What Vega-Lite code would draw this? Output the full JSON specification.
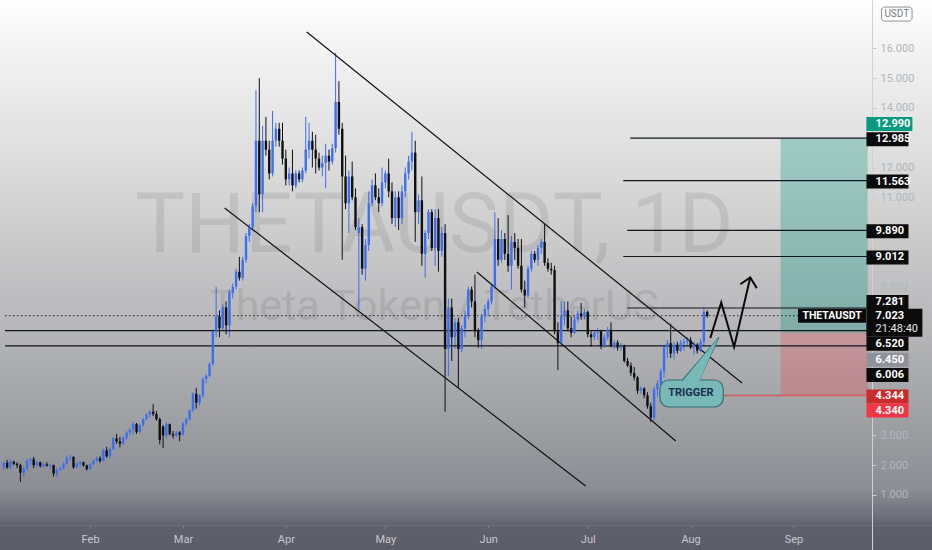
{
  "$schema": "https://vega.github.io/schema/vega-lite/v6.json",
  "width": 932,
  "height": 550,
  "autosize": {"type": "none"},
  "padding": 0,
  "background": "#5a5c68",
  "config": {
    "view": {
      "stroke": null,
      "fill": {
        "gradient": "linear", "x1": 0, "y1": 0, "x2": 0, "y2": 1,
        "stops": [
          {"offset": 0, "color": "#ffffff"},
          {"offset": 0.08, "color": "#f4f4f4"},
          {"offset": 0.3, "color": "#dcdcdc"},
          {"offset": 0.45, "color": "#c9c9ca"},
          {"offset": 0.6, "color": "#b6b6b8"},
          {"offset": 0.7, "color": "#a7a8ac"},
          {"offset": 0.8, "color": "#9a9b9f"},
          {"offset": 0.89, "color": "#8c8d93"},
          {"offset": 0.935, "color": "#70727c"},
          {"offset": 0.955, "color": "#5f616d"},
          {"offset": 1, "color": "#5a5c68"}
        ]
      }
    },
    "axis": {"grid": false, "labelFont": "Roboto", "labelFontSize": 11, "labelOverlap": false},
    "axisY": {"labelOverlap": false},
    "text": {"font": "Roboto"}
  },
  "datasets": {
    "candles": [
      {"d":"2021-01-06","o":1.92,"h":2.12,"l":1.85,"c":2.08},
      {"d":"2021-01-07","o":2.08,"h":2.18,"l":1.88,"c":1.92},
      {"d":"2021-01-08","o":1.92,"h":2.2,"l":1.85,"c":2.12},
      {"d":"2021-01-09","o":2.12,"h":2.15,"l":2.0,"c":2.05},
      {"d":"2021-01-10","o":2.05,"h":2.1,"l":1.9,"c":2.0},
      {"d":"2021-01-11","o":2.0,"h":2.05,"l":1.44,"c":1.75},
      {"d":"2021-01-12","o":1.75,"h":1.95,"l":1.6,"c":1.88},
      {"d":"2021-01-13","o":1.88,"h":2.2,"l":1.8,"c":2.15},
      {"d":"2021-01-14","o":2.15,"h":2.25,"l":2.0,"c":2.2},
      {"d":"2021-01-15","o":2.2,"h":2.28,"l":1.9,"c":2.0},
      {"d":"2021-01-16","o":2.0,"h":2.15,"l":1.95,"c":2.1},
      {"d":"2021-01-17","o":2.1,"h":2.12,"l":1.92,"c":1.97},
      {"d":"2021-01-18","o":1.97,"h":2.08,"l":1.9,"c":2.03},
      {"d":"2021-01-19","o":2.03,"h":2.1,"l":1.95,"c":1.98},
      {"d":"2021-01-20","o":1.98,"h":2.05,"l":1.88,"c":2.0},
      {"d":"2021-01-21","o":2.0,"h":2.02,"l":1.62,"c":1.72},
      {"d":"2021-01-22","o":1.72,"h":1.9,"l":1.6,"c":1.85},
      {"d":"2021-01-23","o":1.85,"h":1.95,"l":1.8,"c":1.9},
      {"d":"2021-01-24","o":1.9,"h":2.1,"l":1.85,"c":2.05},
      {"d":"2021-01-25","o":2.05,"h":2.32,"l":2.0,"c":2.25},
      {"d":"2021-01-26","o":2.25,"h":2.35,"l":2.15,"c":2.28},
      {"d":"2021-01-27","o":2.28,"h":2.3,"l":1.88,"c":1.93},
      {"d":"2021-01-28","o":1.93,"h":2.1,"l":1.9,"c":2.05},
      {"d":"2021-01-29","o":2.05,"h":2.15,"l":1.95,"c":2.1},
      {"d":"2021-01-30","o":2.1,"h":2.12,"l":1.95,"c":2.0},
      {"d":"2021-01-31","o":2.0,"h":2.02,"l":1.82,"c":1.87},
      {"d":"2021-02-01","o":1.87,"h":2.08,"l":1.83,"c":2.03},
      {"d":"2021-02-02","o":2.03,"h":2.2,"l":2.0,"c":2.15},
      {"d":"2021-02-03","o":2.15,"h":2.28,"l":2.1,"c":2.23},
      {"d":"2021-02-04","o":2.23,"h":2.3,"l":2.08,"c":2.15},
      {"d":"2021-02-05","o":2.15,"h":2.55,"l":2.12,"c":2.5},
      {"d":"2021-02-06","o":2.5,"h":2.62,"l":2.25,"c":2.3},
      {"d":"2021-02-07","o":2.3,"h":2.6,"l":2.2,"c":2.55},
      {"d":"2021-02-08","o":2.55,"h":2.95,"l":2.5,"c":2.9},
      {"d":"2021-02-09","o":2.9,"h":3.05,"l":2.72,"c":2.8},
      {"d":"2021-02-10","o":2.8,"h":2.95,"l":2.6,"c":2.72},
      {"d":"2021-02-11","o":2.72,"h":2.98,"l":2.68,"c":2.92},
      {"d":"2021-02-12","o":2.92,"h":3.15,"l":2.85,"c":3.1},
      {"d":"2021-02-13","o":3.1,"h":3.25,"l":3.0,"c":3.2},
      {"d":"2021-02-14","o":3.2,"h":3.45,"l":3.05,"c":3.38},
      {"d":"2021-02-15","o":3.38,"h":3.42,"l":3.05,"c":3.12},
      {"d":"2021-02-16","o":3.12,"h":3.4,"l":3.08,"c":3.35},
      {"d":"2021-02-17","o":3.35,"h":3.6,"l":3.3,"c":3.55},
      {"d":"2021-02-18","o":3.55,"h":3.75,"l":3.5,"c":3.7},
      {"d":"2021-02-19","o":3.7,"h":3.85,"l":3.6,"c":3.8},
      {"d":"2021-02-20","o":3.8,"h":4.05,"l":3.65,"c":3.72},
      {"d":"2021-02-21","o":3.72,"h":3.82,"l":3.5,"c":3.55},
      {"d":"2021-02-22","o":3.55,"h":3.6,"l":2.7,"c":2.85},
      {"d":"2021-02-23","o":3.3,"h":3.35,"l":2.58,"c":3.0},
      {"d":"2021-02-24","o":3.0,"h":3.45,"l":2.9,"c":3.38},
      {"d":"2021-02-25","o":3.38,"h":3.4,"l":3.0,"c":3.05},
      {"d":"2021-02-26","o":3.05,"h":3.15,"l":2.9,"c":3.0},
      {"d":"2021-02-27","o":3.0,"h":3.15,"l":2.95,"c":3.1},
      {"d":"2021-02-28","o":3.1,"h":3.15,"l":2.8,"c":3.02},
      {"d":"2021-03-01","o":3.02,"h":3.45,"l":3.0,"c":3.4},
      {"d":"2021-03-02","o":3.4,"h":3.6,"l":3.3,"c":3.55},
      {"d":"2021-03-03","o":3.55,"h":3.88,"l":3.5,"c":3.85},
      {"d":"2021-03-04","o":3.85,"h":4.45,"l":3.8,"c":4.4},
      {"d":"2021-03-05","o":4.4,"h":4.6,"l":3.9,"c":4.1},
      {"d":"2021-03-06","o":4.1,"h":4.38,"l":4.0,"c":4.35},
      {"d":"2021-03-07","o":4.35,"h":4.95,"l":4.25,"c":4.9},
      {"d":"2021-03-08","o":4.9,"h":5.05,"l":4.75,"c":5.0},
      {"d":"2021-03-09","o":5.0,"h":5.45,"l":4.95,"c":5.4},
      {"d":"2021-03-10","o":5.4,"h":6.55,"l":5.35,"c":6.5},
      {"d":"2021-03-11","o":6.5,"h":8.0,"l":6.3,"c":7.0},
      {"d":"2021-03-12","o":7.0,"h":7.2,"l":6.3,"c":6.6},
      {"d":"2021-03-13","o":6.6,"h":7.4,"l":6.5,"c":7.3},
      {"d":"2021-03-14","o":7.3,"h":7.5,"l":6.4,"c":6.7},
      {"d":"2021-03-15","o":6.7,"h":7.9,"l":6.3,"c":7.8},
      {"d":"2021-03-16","o":7.8,"h":8.1,"l":7.6,"c":8.0},
      {"d":"2021-03-17","o":8.0,"h":8.6,"l":7.9,"c":8.5},
      {"d":"2021-03-18","o":8.5,"h":9.0,"l":8.2,"c":8.3},
      {"d":"2021-03-19","o":8.3,"h":9.0,"l":8.2,"c":8.9},
      {"d":"2021-03-20","o":8.9,"h":9.8,"l":8.8,"c":9.7},
      {"d":"2021-03-21","o":9.7,"h":10.1,"l":9.5,"c":10.0},
      {"d":"2021-03-22","o":10.0,"h":10.8,"l":9.9,"c":10.7},
      {"d":"2021-03-23","o":10.7,"h":14.6,"l":10.5,"c":12.9},
      {"d":"2021-03-24","o":12.9,"h":15.0,"l":10.5,"c":11.1},
      {"d":"2021-03-25","o":11.1,"h":13.4,"l":10.5,"c":12.9},
      {"d":"2021-03-26","o":12.9,"h":13.7,"l":12.4,"c":12.6},
      {"d":"2021-03-27","o":12.6,"h":12.9,"l":11.6,"c":11.8},
      {"d":"2021-03-28","o":11.8,"h":13.9,"l":11.7,"c":12.9},
      {"d":"2021-03-29","o":12.9,"h":13.5,"l":12.7,"c":13.3},
      {"d":"2021-03-30","o":13.3,"h":13.5,"l":12.7,"c":12.9},
      {"d":"2021-03-31","o":12.9,"h":13.5,"l":12.1,"c":12.3},
      {"d":"2021-04-01","o":12.3,"h":12.6,"l":11.4,"c":11.6},
      {"d":"2021-04-02","o":11.6,"h":12.0,"l":11.4,"c":11.8},
      {"d":"2021-04-03","o":11.8,"h":12.6,"l":11.2,"c":11.4},
      {"d":"2021-04-04","o":11.4,"h":11.9,"l":11.3,"c":11.8},
      {"d":"2021-04-05","o":11.8,"h":11.9,"l":11.5,"c":11.6},
      {"d":"2021-04-06","o":11.6,"h":12.0,"l":11.5,"c":11.9},
      {"d":"2021-04-07","o":11.9,"h":13.7,"l":11.8,"c":12.6},
      {"d":"2021-04-08","o":12.6,"h":13.5,"l":12.3,"c":12.9},
      {"d":"2021-04-09","o":12.9,"h":13.2,"l":12.0,"c":12.6},
      {"d":"2021-04-10","o":12.6,"h":13.1,"l":11.8,"c":12.3},
      {"d":"2021-04-11","o":12.3,"h":12.5,"l":11.9,"c":12.0},
      {"d":"2021-04-12","o":12.0,"h":12.4,"l":11.7,"c":12.15},
      {"d":"2021-04-13","o":12.15,"h":12.8,"l":11.3,"c":12.4},
      {"d":"2021-04-14","o":12.4,"h":12.6,"l":11.9,"c":12.2},
      {"d":"2021-04-15","o":12.2,"h":12.8,"l":12.1,"c":12.65},
      {"d":"2021-04-16","o":12.65,"h":15.85,"l":12.5,"c":14.2},
      {"d":"2021-04-17","o":14.2,"h":14.9,"l":13.1,"c":13.3},
      {"d":"2021-04-18","o":13.3,"h":13.5,"l":8.9,"c":11.7},
      {"d":"2021-04-19","o":11.7,"h":12.4,"l":10.6,"c":10.8},
      {"d":"2021-04-20","o":10.8,"h":11.9,"l":9.8,"c":11.7},
      {"d":"2021-04-21","o":11.7,"h":12.2,"l":10.9,"c":11.0},
      {"d":"2021-04-22","o":11.0,"h":11.3,"l":9.9,"c":10.0},
      {"d":"2021-04-23","o":9.8,"h":10.3,"l":7.2,"c":10.0},
      {"d":"2021-04-24","o":10.0,"h":10.1,"l":8.4,"c":8.6},
      {"d":"2021-04-25","o":8.6,"h":9.6,"l":8.2,"c":9.4},
      {"d":"2021-04-26","o":9.4,"h":11.2,"l":9.2,"c":10.8},
      {"d":"2021-04-27","o":10.8,"h":11.6,"l":10.7,"c":11.4},
      {"d":"2021-04-28","o":11.4,"h":11.8,"l":10.9,"c":11.0},
      {"d":"2021-04-29","o":11.0,"h":11.3,"l":10.5,"c":10.8},
      {"d":"2021-04-30","o":10.8,"h":12.0,"l":10.7,"c":11.5},
      {"d":"2021-05-01","o":11.5,"h":11.9,"l":11.3,"c":11.8},
      {"d":"2021-05-02","o":11.8,"h":12.3,"l":11.0,"c":11.2},
      {"d":"2021-05-03","o":11.2,"h":11.5,"l":10.1,"c":10.3},
      {"d":"2021-05-04","o":10.3,"h":11.2,"l":10.0,"c":11.0},
      {"d":"2021-05-05","o":11.0,"h":11.2,"l":9.9,"c":10.3},
      {"d":"2021-05-06","o":10.3,"h":11.4,"l":10.1,"c":11.2},
      {"d":"2021-05-07","o":11.2,"h":12.0,"l":11.0,"c":11.8},
      {"d":"2021-05-08","o":11.8,"h":12.4,"l":11.6,"c":12.2},
      {"d":"2021-05-09","o":12.2,"h":13.2,"l":11.9,"c":12.5},
      {"d":"2021-05-10","o":12.5,"h":12.9,"l":9.5,"c":10.5},
      {"d":"2021-05-11","o":10.5,"h":11.1,"l":10.1,"c":10.9},
      {"d":"2021-05-12","o":10.9,"h":11.7,"l":8.7,"c":9.1},
      {"d":"2021-05-13","o":9.1,"h":9.9,"l":8.3,"c":9.8},
      {"d":"2021-05-14","o":9.8,"h":10.6,"l":9.6,"c":10.5},
      {"d":"2021-05-15","o":10.5,"h":10.6,"l":9.2,"c":9.3},
      {"d":"2021-05-16","o":9.3,"h":10.6,"l":8.7,"c":10.3},
      {"d":"2021-05-17","o":10.3,"h":10.6,"l":8.5,"c":9.2},
      {"d":"2021-05-18","o":9.2,"h":10.0,"l":9.0,"c":9.8},
      {"d":"2021-05-19","o":9.8,"h":10.1,"l":3.8,"c":5.9},
      {"d":"2021-05-20","o":5.9,"h":7.6,"l":5.0,"c":7.3},
      {"d":"2021-05-21","o":7.3,"h":7.6,"l":5.5,"c":6.3},
      {"d":"2021-05-22","o":6.3,"h":6.95,"l":5.9,"c":6.8},
      {"d":"2021-05-23","o":6.8,"h":6.95,"l":4.6,"c":5.9},
      {"d":"2021-05-24","o":5.9,"h":6.7,"l":5.8,"c":6.6},
      {"d":"2021-05-25","o":6.6,"h":7.2,"l":6.3,"c":7.0},
      {"d":"2021-05-26","o":7.0,"h":8.0,"l":6.9,"c":7.9},
      {"d":"2021-05-27","o":7.9,"h":8.0,"l":7.3,"c":7.5},
      {"d":"2021-05-28","o":7.5,"h":8.4,"l":6.3,"c":6.5},
      {"d":"2021-05-29","o":6.5,"h":6.6,"l":5.95,"c":6.2},
      {"d":"2021-05-30","o":6.2,"h":7.1,"l":5.9,"c":7.0},
      {"d":"2021-05-31","o":7.0,"h":7.4,"l":6.8,"c":7.25},
      {"d":"2021-06-01","o":7.25,"h":7.6,"l":7.0,"c":7.5},
      {"d":"2021-06-02","o":7.5,"h":8.1,"l":7.4,"c":8.0},
      {"d":"2021-06-03","o":8.0,"h":10.5,"l":7.9,"c":9.6},
      {"d":"2021-06-04","o":9.6,"h":10.3,"l":8.7,"c":8.9},
      {"d":"2021-06-05","o":8.9,"h":9.9,"l":8.8,"c":9.6},
      {"d":"2021-06-06","o":9.6,"h":9.8,"l":8.9,"c":9.1},
      {"d":"2021-06-07","o":9.1,"h":10.4,"l":8.5,"c":8.7},
      {"d":"2021-06-08","o":8.7,"h":9.7,"l":7.9,"c":9.5},
      {"d":"2021-06-09","o":9.5,"h":9.8,"l":8.9,"c":9.3},
      {"d":"2021-06-10","o":9.3,"h":9.6,"l":8.6,"c":8.7},
      {"d":"2021-06-11","o":8.7,"h":9.6,"l":7.8,"c":7.9},
      {"d":"2021-06-12","o":7.9,"h":8.2,"l":7.3,"c":7.7},
      {"d":"2021-06-13","o":7.7,"h":8.7,"l":7.6,"c":8.6},
      {"d":"2021-06-14","o":8.6,"h":9.2,"l":8.5,"c":9.1},
      {"d":"2021-06-15","o":9.1,"h":9.2,"l":8.8,"c":8.9},
      {"d":"2021-06-16","o":8.9,"h":9.4,"l":8.7,"c":9.3},
      {"d":"2021-06-17","o":9.3,"h":9.6,"l":9.1,"c":9.5},
      {"d":"2021-06-18","o":9.5,"h":10.1,"l":8.7,"c":8.8},
      {"d":"2021-06-19","o":8.8,"h":8.95,"l":8.5,"c":8.6},
      {"d":"2021-06-20","o":8.6,"h":8.8,"l":8.4,"c":8.55},
      {"d":"2021-06-21","o":8.55,"h":8.7,"l":6.4,"c":6.5},
      {"d":"2021-06-22","o":6.5,"h":6.8,"l":5.2,"c":6.1},
      {"d":"2021-06-23","o":6.1,"h":7.5,"l":6.0,"c":7.0},
      {"d":"2021-06-24","o":7.0,"h":7.5,"l":6.7,"c":7.2},
      {"d":"2021-06-25","o":7.2,"h":7.5,"l":6.5,"c":6.6},
      {"d":"2021-06-26","o":6.6,"h":7.0,"l":6.3,"c":6.45},
      {"d":"2021-06-27","o":6.45,"h":7.0,"l":6.4,"c":6.9},
      {"d":"2021-06-28","o":6.9,"h":7.2,"l":6.8,"c":7.1},
      {"d":"2021-06-29","o":7.1,"h":7.45,"l":6.9,"c":7.0},
      {"d":"2021-06-30","o":7.0,"h":7.25,"l":6.9,"c":7.15},
      {"d":"2021-07-01","o":7.15,"h":7.2,"l":6.3,"c":6.4},
      {"d":"2021-07-02","o":6.4,"h":6.5,"l":5.97,"c":6.3},
      {"d":"2021-07-03","o":6.3,"h":6.5,"l":6.2,"c":6.45},
      {"d":"2021-07-04","o":6.45,"h":6.6,"l":6.2,"c":6.5},
      {"d":"2021-07-05","o":6.5,"h":6.55,"l":5.9,"c":6.0},
      {"d":"2021-07-06","o":6.0,"h":6.4,"l":5.95,"c":6.3},
      {"d":"2021-07-07","o":6.3,"h":6.65,"l":6.2,"c":6.55},
      {"d":"2021-07-08","o":6.55,"h":6.8,"l":5.95,"c":6.0},
      {"d":"2021-07-09","o":6.0,"h":6.2,"l":5.9,"c":6.12},
      {"d":"2021-07-10","o":6.12,"h":6.2,"l":5.85,"c":5.95},
      {"d":"2021-07-11","o":5.95,"h":6.1,"l":5.85,"c":6.0},
      {"d":"2021-07-12","o":6.0,"h":6.05,"l":5.45,"c":5.5},
      {"d":"2021-07-13","o":5.5,"h":5.6,"l":5.3,"c":5.35},
      {"d":"2021-07-14","o":5.35,"h":5.45,"l":5.0,"c":5.1},
      {"d":"2021-07-15","o":5.1,"h":5.3,"l":4.85,"c":4.95},
      {"d":"2021-07-16","o":4.95,"h":5.0,"l":4.4,"c":4.5},
      {"d":"2021-07-17","o":4.5,"h":4.65,"l":4.4,"c":4.58},
      {"d":"2021-07-18","o":4.58,"h":4.62,"l":4.25,"c":4.35},
      {"d":"2021-07-19","o":4.35,"h":4.45,"l":3.9,"c":3.98},
      {"d":"2021-07-20","o":3.98,"h":4.1,"l":3.45,"c":3.6},
      {"d":"2021-07-21","o":3.6,"h":4.65,"l":3.5,"c":4.55},
      {"d":"2021-07-22","o":4.55,"h":4.85,"l":4.3,"c":4.75},
      {"d":"2021-07-23","o":4.75,"h":5.25,"l":4.6,"c":5.15},
      {"d":"2021-07-24","o":5.15,"h":6.05,"l":4.95,"c":5.95},
      {"d":"2021-07-25","o":5.95,"h":6.2,"l":5.6,"c":6.1},
      {"d":"2021-07-26","o":6.1,"h":6.75,"l":5.6,"c":5.75},
      {"d":"2021-07-27","o":5.75,"h":6.15,"l":5.55,"c":6.05},
      {"d":"2021-07-28","o":6.05,"h":6.15,"l":5.75,"c":5.85},
      {"d":"2021-07-29","o":5.85,"h":6.2,"l":5.8,"c":6.1},
      {"d":"2021-07-30","o":6.1,"h":6.25,"l":5.85,"c":6.15},
      {"d":"2021-07-31","o":6.15,"h":6.3,"l":6.0,"c":6.2},
      {"d":"2021-08-01","o":6.2,"h":6.3,"l":5.9,"c":5.95},
      {"d":"2021-08-02","o":5.95,"h":6.15,"l":5.7,"c":6.05},
      {"d":"2021-08-03","o":6.05,"h":6.1,"l":5.75,"c":5.85},
      {"d":"2021-08-04","o":5.85,"h":6.25,"l":5.8,"c":6.15},
      {"d":"2021-08-05","o":6.15,"h":7.28,"l":6.0,"c":7.15},
      {"d":"2021-08-06","o":7.15,"h":7.2,"l":6.95,"c":7.02}
    ],
    "trend": [
      {"g":"a","t":"2021-04-07T07:12:00Z","v":16.553},
      {"g":"a","t":"2021-08-16T11:45:00Z","v":4.762},
      {"g":"b","t":"2021-03-13T13:12:00Z","v":10.641},
      {"g":"b","t":"2021-06-30T09:07:00Z","v":1.302},
      {"g":"c","t":"2021-05-28T14:10:00Z","v":8.491},
      {"g":"c","t":"2021-07-27T12:29:00Z","v":2.814}
    ],
    "arrow": [
      {"g":"path","t":"2021-08-06T22:48:00Z","v":6.274},
      {"g":"path","t":"2021-08-10T05:31:00Z","v":7.466},
      {"g":"path","t":"2021-08-14T02:38:00Z","v":5.971},
      {"g":"path","t":"2021-08-18T23:17:00Z","v":8.306},
      {"g":"head","t":"2021-08-15T23:46:00Z","v":8.078},
      {"g":"head","t":"2021-08-18T23:17:00Z","v":8.306},
      {"g":"head","t":"2021-08-20T23:17:00Z","v":7.943}
    ],
    "hl": [
      {"p":12.985,"s":"2021-07-13T19:12:00Z"},
      {"p":11.563,"s":"2021-07-11T17:00:00Z"},
      {"p":9.89,"s":"2021-07-12T21:36:00Z"},
      {"p":9.012,"s":"2021-07-11T17:00:00Z"},
      {"p":7.281,"s":"2021-07-12T21:36:00Z"},
      {"p":6.52,"s":"2021-01-06T08:36:00Z"},
      {"p":6.006,"s":"2021-01-06T08:36:00Z"}
    ],
    "tail": [
      {"t":"2021-07-29T14:24:00Z","a":4.863,"b":4.863},
      {"t":"2021-08-03T13:55:00Z","a":5.515,"b":4.863},
      {"t":"2021-08-09T13:12:00Z","a":6.297,"b":6.297}
    ],
    "tailcover": [
      {"t":"2021-07-29T20:00:00Z","a":4.86,"b":4.80},
      {"t":"2021-08-03T12:00:00Z","a":5.49,"b":4.80},
      {"t":"2021-08-09T10:00:00Z","a":6.28,"b":6.28}
    ],
    "lab": [
      {"p":12.99,"t":"12.990"},
      {"p":12.985,"t":"12.985"},
      {"p":11.563,"t":"11.563"},
      {"p":9.89,"t":"9.890"},
      {"p":9.012,"t":"9.012"},
      {"p":7.281,"t":"7.281"},
      {"p":7.023,"t":"7.023"},
      {"p":6.52,"t":"6.520"},
      {"p":6.45,"t":"6.450"},
      {"p":6.006,"t":"6.006"},
      {"p":4.344,"t":"4.344"},
      {"p":4.34,"t":"4.340"}
    ]
  },
  "layer": [
    {
      "data": {"name": "candles"},
      "mark": {"type": "rule", "strokeWidth": 1},
      "encoding": {
        "x": {"field": "d", "type": "temporal",
          "scale": {"type": "utc", "domain": [1609922131200, 1633932000000]},
          "axis": {"orient": "bottom", "offset": -25, "title": null, "format": "%b",
            "values": [
              {"year":2021,"month":2,"date":1,"utc":true},
              {"year":2021,"month":3,"date":1,"utc":true},
              {"year":2021,"month":4,"date":1,"utc":true},
              {"year":2021,"month":5,"date":1,"utc":true},
              {"year":2021,"month":6,"date":1,"utc":true},
              {"year":2021,"month":7,"date":1,"utc":true},
              {"year":2021,"month":8,"date":1,"utc":true},
              {"year":2021,"month":9,"date":1,"utc":true}
            ],
            "labelColor": "#c5c7d0", "labelFontSize": 11, "tickSize": 3, "tickColor": "#7c7e8a",
            "labelPadding": 5, "domainColor": "#6d6f7b", "labelFlush": false, "labelOverlap": false}},
        "y": {"field": "l", "type": "quantitative",
          "scale": {"domain": [-0.8475, 17.627], "zero": false, "nice": false},
          "axis": {"orient": "right", "offset": -60, "title": null, "format": ".3f",
            "values": [1,2,3,8,11,12,14,15,16],
            "labelColor": "#b2b5be", "labelFontSize": 11, "tickSize": 4, "tickColor": "#c9cbd1",
            "labelPadding": 4, "labelAlign": "left", "labelBaseline": "middle",
            "domainColor": "#cfd1d6", "labelOverlap": false, "labelFlush": false}},
        "y2": {"field": "h"},
        "color": {"condition": {"test": "datum.c >= datum.o", "value": "#3d6ef0"}, "value": "#101010"}
      }
    },
    {
      "data": {"values": [{"w": "THETAUSDT, 1D"}]},
      "mark": {"type": "text", "fontSize": 84, "align": "center", "baseline": "alphabetic", "color": "#000000", "opacity": 0.08},
      "encoding": {
        "x": {"datum": {"year":2021,"month":5,"date":15,"hours":18,"utc":true}, "type": "temporal"},
        "y": {"datum": 9.163, "type": "quantitative"},
        "text": {"field": "w"}
      }
    },
    {
      "data": {"values": [{"w": "Theta Token / TetherUS"}]},
      "mark": {"type": "text", "fontSize": 43, "align": "center", "baseline": "alphabetic", "color": "#000000", "opacity": 0.08},
      "encoding": {
        "x": {"datum": {"year":2021,"month":5,"date":15,"hours":18,"utc":true}, "type": "temporal"},
        "y": {"datum": 6.878, "type": "quantitative"},
        "text": {"field": "w"}
      }
    },
    {
      "data": {"values": [{"top": 12.99, "entry": 6.45}]},
      "mark": {"type": "rect", "color": "#089981", "opacity": 0.3},
      "encoding": {
        "x": {"datum": {"year":2021,"month":8,"date":28,"hours":3,"utc":true}, "type": "temporal"},
        "x2": {"datum": {"year":2021,"month":9,"date":23,"hours":8,"minutes":38,"utc":true}},
        "y": {"field": "top", "type": "quantitative"},
        "y2": {"field": "entry"}
      }
    },
    {
      "data": {"values": [{"stop": 4.34, "entry": 6.45}]},
      "mark": {"type": "rect", "color": "#f23645", "opacity": 0.25},
      "encoding": {
        "x": {"datum": {"year":2021,"month":8,"date":28,"hours":3,"utc":true}, "type": "temporal"},
        "x2": {"datum": {"year":2021,"month":9,"date":23,"hours":8,"minutes":38,"utc":true}},
        "y": {"field": "entry", "type": "quantitative"},
        "y2": {"field": "stop"}
      }
    },
    {
      "data": {"name": "hl"},
      "mark": {"type": "rule", "color": "#131722", "strokeWidth": 1.2},
      "encoding": {
        "x": {"field": "s", "type": "temporal"},
        "x2": {"datum": {"year":2021,"month":9,"date":23,"hours":8,"minutes":38,"utc":true}},
        "y": {"field": "p", "type": "quantitative"}
      }
    },
    {
      "data": {"values": [{"p": 7.023}]},
      "mark": {"type": "rule", "color": "#222222", "strokeWidth": 1, "strokeDash": [1.5, 2.5]},
      "encoding": {
        "x": {"datum": {"year":2021,"month":1,"date":6,"hours":8,"minutes":36,"utc":true}, "type": "temporal"},
        "x2": {"datum": {"year":2021,"month":9,"date":8,"utc":true}},
        "y": {"field": "p", "type": "quantitative"}
      }
    },
    {
      "data": {"values": [{"p": 4.344, "s": "2021-08-10T12:43:00Z"}]},
      "mark": {"type": "rule", "color": "#e0504f", "strokeWidth": 1.5, "opacity": 0.85},
      "encoding": {
        "x": {"field": "s", "type": "temporal"},
        "x2": {"datum": {"year":2021,"month":9,"date":23,"hours":8,"minutes":38,"utc":true}},
        "y": {"field": "p", "type": "quantitative"}
      }
    },
    {
      "data": {"name": "trend"},
      "mark": {"type": "line", "color": "#111111", "strokeWidth": 1.2},
      "encoding": {
        "x": {"field": "t", "type": "temporal"},
        "y": {"field": "v", "type": "quantitative"},
        "detail": {"field": "g"}
      }
    },
    {
      "data": {"name": "candles"},
      "mark": {"type": "bar", "size": 2.4},
      "encoding": {
        "x": {"field": "d", "type": "temporal"},
        "y": {"field": "o", "type": "quantitative"},
        "y2": {"field": "c"},
        "color": {"condition": {"test": "datum.c >= datum.o", "value": "#3d6ef0"}, "value": "#101010"}
      }
    },
    {
      "data": {"name": "arrow"},
      "mark": {"type": "line", "color": "#0a0a0a", "strokeWidth": 2},
      "encoding": {
        "x": {"field": "t", "type": "temporal"},
        "y": {"field": "v", "type": "quantitative"},
        "detail": {"field": "g"}
      }
    },
    {
      "data": {"name": "tail"},
      "mark": {"type": "area", "color": "#78b9b8", "opacity": 1, "stroke": "#2f6e72", "strokeWidth": 1.2},
      "encoding": {
        "x": {"field": "t", "type": "temporal"},
        "y": {"field": "a", "type": "quantitative"},
        "y2": {"field": "b"}
      }
    },
    {
      "data": {"values": [{"top": 4.863, "bottom": 3.956}]},
      "mark": {"type": "rect", "color": "#78b9b8", "stroke": "#2f6e72", "strokeWidth": 1.2, "cornerRadius": 9, "opacity": 1},
      "encoding": {
        "x": {"datum": {"year":2021,"month":7,"date":22,"hours":18,"utc":true}, "type": "temporal"},
        "x2": {"datum": {"year":2021,"month":8,"date":10,"hours":20,"utc":true}},
        "y": {"field": "top", "type": "quantitative"},
        "y2": {"field": "bottom"}
      }
    },
    {
      "data": {"name": "tailcover"},
      "mark": {"type": "area", "color": "#78b9b8", "opacity": 1},
      "encoding": {
        "x": {"field": "t", "type": "temporal"},
        "y": {"field": "a", "type": "quantitative"},
        "y2": {"field": "b"}
      }
    },
    {
      "data": {"values": [{"w": "TRIGGER", "p": 4.416}]},
      "mark": {"type": "text", "fontSize": 11, "fontWeight": "bold", "color": "#1d2e4c", "align": "center", "baseline": "middle"},
      "encoding": {
        "x": {"datum": {"year":2021,"month":8,"date":1,"hours":2,"utc":true}, "type": "temporal"},
        "y": {"field": "p", "type": "quantitative"},
        "text": {"field": "w"}
      }
    },
    {
      "data": {"values": [{"w": "THETAUSDT", "p": 7.023}]},
      "mark": {"type": "tick", "orient": "horizontal", "size": 68, "thickness": 14, "color": "#0b0b0b", "opacity": 1},
      "encoding": {
        "x": {"datum": {"year":2021,"month":9,"date":12,"hours":15,"utc":true}, "type": "temporal"},
        "y": {"field": "p", "type": "quantitative"}
      }
    },
    {
      "data": {"values": [{"w": "THETAUSDT", "p": 7.023}]},
      "mark": {"type": "text", "fontSize": 10.5, "fontWeight": "bold", "color": "#ffffff", "align": "center", "baseline": "middle"},
      "encoding": {
        "x": {"datum": {"year":2021,"month":9,"date":12,"hours":15,"utc":true}, "type": "temporal"},
        "y": {"field": "p", "type": "quantitative"},
        "text": {"field": "w"}
      }
    },
    {
      "data": {"name": "lab"},
      "transform": [{"filter": "datum.t == '12.985' || datum.t == '11.563' || datum.t == '9.890' || datum.t == '9.012'"}],
      "mark": {"type": "tick", "orient": "horizontal", "size": 42, "thickness": 14, "color": "#0b0b0b", "opacity": 1, "yOffset": 1},
      "encoding": {
        "x": {"datum": {"year":2021,"month":9,"date":29,"hours":8,"utc":true}, "type": "temporal"},
        "y": {"field": "p", "type": "quantitative"}
      }
    },
    {
      "data": {"name": "lab"},
      "transform": [{"filter": "datum.t == '12.985' || datum.t == '11.563' || datum.t == '9.890' || datum.t == '9.012'"}],
      "mark": {"type": "text", "fontSize": 11, "fontWeight": "bold", "color": "#ffffff", "align": "left", "baseline": "middle", "dy": 1},
      "encoding": {
        "x": {"datum": {"year":2021,"month":9,"date":25,"hours":18,"utc":true}, "type": "temporal"},
        "y": {"field": "p", "type": "quantitative"},
        "text": {"field": "t"}
      }
    },
    {
      "data": {"name": "lab"},
      "transform": [{"filter": "datum.t == '12.990'"}],
      "mark": {"type": "tick", "orient": "horizontal", "size": 46, "thickness": 14, "color": "#089981", "opacity": 1, "yOffset": -14},
      "encoding": {
        "x": {"datum": {"year":2021,"month":9,"date":29,"hours":22,"utc":true}, "type": "temporal"},
        "y": {"field": "p", "type": "quantitative"}
      }
    },
    {
      "data": {"name": "lab"},
      "transform": [{"filter": "datum.t == '12.990'"}],
      "mark": {"type": "text", "fontSize": 11, "fontWeight": "bold", "color": "#ffffff", "align": "left", "baseline": "middle", "dy": -14},
      "encoding": {
        "x": {"datum": {"year":2021,"month":9,"date":25,"hours":18,"utc":true}, "type": "temporal"},
        "y": {"field": "p", "type": "quantitative"},
        "text": {"field": "t"}
      }
    },
    {
      "data": {"name": "lab"},
      "transform": [{"filter": "datum.t == '7.281'"}],
      "mark": {"type": "tick", "orient": "horizontal", "size": 42, "thickness": 14, "color": "#0b0b0b", "opacity": 1, "yOffset": -6},
      "encoding": {
        "x": {"datum": {"year":2021,"month":9,"date":29,"hours":8,"utc":true}, "type": "temporal"},
        "y": {"field": "p", "type": "quantitative"}
      }
    },
    {
      "data": {"name": "lab"},
      "transform": [{"filter": "datum.t == '7.281'"}],
      "mark": {"type": "text", "fontSize": 11, "fontWeight": "bold", "color": "#ffffff", "align": "left", "baseline": "middle", "dy": -6},
      "encoding": {
        "x": {"datum": {"year":2021,"month":9,"date":25,"hours":18,"utc":true}, "type": "temporal"},
        "y": {"field": "p", "type": "quantitative"},
        "text": {"field": "t"}
      }
    },
    {
      "data": {"name": "lab"},
      "transform": [{"filter": "datum.t == '7.023'"}],
      "mark": {"type": "tick", "orient": "horizontal", "size": 56, "thickness": 28, "color": "#0b0b0b", "opacity": 1, "yOffset": 7},
      "encoding": {
        "x": {"datum": {"year":2021,"month":10,"date":1,"hours":10,"utc":true}, "type": "temporal"},
        "y": {"field": "p", "type": "quantitative"}
      }
    },
    {
      "data": {"name": "lab"},
      "transform": [{"filter": "datum.t == '7.023'"}],
      "mark": {"type": "text", "fontSize": 11, "fontWeight": "bold", "color": "#ffffff", "align": "left", "baseline": "middle", "dy": 0},
      "encoding": {
        "x": {"datum": {"year":2021,"month":9,"date":25,"hours":18,"utc":true}, "type": "temporal"},
        "y": {"field": "p", "type": "quantitative"},
        "text": {"field": "t"}
      }
    },
    {
      "data": {"values": [{"p": 7.023, "w": "21:48:40"}]},
      "mark": {"type": "text", "fontSize": 11, "color": "#e8e8e8", "align": "left", "baseline": "middle", "dy": 13},
      "encoding": {
        "x": {"datum": {"year":2021,"month":9,"date":25,"hours":18,"utc":true}, "type": "temporal"},
        "y": {"field": "p", "type": "quantitative"},
        "text": {"field": "w"}
      }
    },
    {
      "data": {"name": "lab"},
      "transform": [{"filter": "datum.t == '6.520'"}],
      "mark": {"type": "tick", "orient": "horizontal", "size": 42, "thickness": 14, "color": "#0b0b0b", "opacity": 1, "yOffset": 13},
      "encoding": {
        "x": {"datum": {"year":2021,"month":9,"date":29,"hours":8,"utc":true}, "type": "temporal"},
        "y": {"field": "p", "type": "quantitative"}
      }
    },
    {
      "data": {"name": "lab"},
      "transform": [{"filter": "datum.t == '6.520'"}],
      "mark": {"type": "text", "fontSize": 11, "fontWeight": "bold", "color": "#ffffff", "align": "left", "baseline": "middle", "dy": 13},
      "encoding": {
        "x": {"datum": {"year":2021,"month":9,"date":25,"hours":18,"utc":true}, "type": "temporal"},
        "y": {"field": "p", "type": "quantitative"},
        "text": {"field": "t"}
      }
    },
    {
      "data": {"name": "lab"},
      "transform": [{"filter": "datum.t == '6.450'"}],
      "mark": {"type": "tick", "orient": "horizontal", "size": 42, "thickness": 14, "color": "#8f929b", "opacity": 1, "yOffset": 27},
      "encoding": {
        "x": {"datum": {"year":2021,"month":9,"date":29,"hours":8,"utc":true}, "type": "temporal"},
        "y": {"field": "p", "type": "quantitative"}
      }
    },
    {
      "data": {"name": "lab"},
      "transform": [{"filter": "datum.t == '6.450'"}],
      "mark": {"type": "text", "fontSize": 11, "fontWeight": "bold", "color": "#ffffff", "align": "left", "baseline": "middle", "dy": 27},
      "encoding": {
        "x": {"datum": {"year":2021,"month":9,"date":25,"hours":18,"utc":true}, "type": "temporal"},
        "y": {"field": "p", "type": "quantitative"},
        "text": {"field": "t"}
      }
    },
    {
      "data": {"name": "lab"},
      "transform": [{"filter": "datum.t == '6.006'"}],
      "mark": {"type": "tick", "orient": "horizontal", "size": 42, "thickness": 14, "color": "#0b0b0b", "opacity": 1, "yOffset": 29},
      "encoding": {
        "x": {"datum": {"year":2021,"month":9,"date":29,"hours":8,"utc":true}, "type": "temporal"},
        "y": {"field": "p", "type": "quantitative"}
      }
    },
    {
      "data": {"name": "lab"},
      "transform": [{"filter": "datum.t == '6.006'"}],
      "mark": {"type": "text", "fontSize": 11, "fontWeight": "bold", "color": "#ffffff", "align": "left", "baseline": "middle", "dy": 29},
      "encoding": {
        "x": {"datum": {"year":2021,"month":9,"date":25,"hours":18,"utc":true}, "type": "temporal"},
        "y": {"field": "p", "type": "quantitative"},
        "text": {"field": "t"}
      }
    },
    {
      "data": {"name": "lab"},
      "transform": [{"filter": "datum.t == '4.344'"}],
      "mark": {"type": "tick", "orient": "horizontal", "size": 42, "thickness": 14, "color": "#cc2b2b", "opacity": 1, "yOffset": 1},
      "encoding": {
        "x": {"datum": {"year":2021,"month":9,"date":29,"hours":8,"utc":true}, "type": "temporal"},
        "y": {"field": "p", "type": "quantitative"}
      }
    },
    {
      "data": {"name": "lab"},
      "transform": [{"filter": "datum.t == '4.344'"}],
      "mark": {"type": "text", "fontSize": 11, "fontWeight": "bold", "color": "#ffffff", "align": "left", "baseline": "middle", "dy": 1},
      "encoding": {
        "x": {"datum": {"year":2021,"month":9,"date":25,"hours":18,"utc":true}, "type": "temporal"},
        "y": {"field": "p", "type": "quantitative"},
        "text": {"field": "t"}
      }
    },
    {
      "data": {"name": "lab"},
      "transform": [{"filter": "datum.t == '4.340'"}],
      "mark": {"type": "tick", "orient": "horizontal", "size": 42, "thickness": 14, "color": "#f23645", "opacity": 1, "yOffset": 15},
      "encoding": {
        "x": {"datum": {"year":2021,"month":9,"date":29,"hours":8,"utc":true}, "type": "temporal"},
        "y": {"field": "p", "type": "quantitative"}
      }
    },
    {
      "data": {"name": "lab"},
      "transform": [{"filter": "datum.t == '4.340'"}],
      "mark": {"type": "text", "fontSize": 11, "fontWeight": "bold", "color": "#ffffff", "align": "left", "baseline": "middle", "dy": 15},
      "encoding": {
        "x": {"datum": {"year":2021,"month":9,"date":25,"hours":18,"utc":true}, "type": "temporal"},
        "y": {"field": "p", "type": "quantitative"},
        "text": {"field": "t"}
      }
    },
    {
      "data": {"values": [{"a": 17.39, "b": 16.92}]},
      "mark": {"type": "rect", "fill": "#ffffff", "stroke": "#8d9099", "strokeWidth": 1, "cornerRadius": 3},
      "encoding": {
        "x": {"datum": {"year":2021,"month":9,"date":27,"hours":13,"utc":true}, "type": "temporal"},
        "x2": {"datum": {"year":2021,"month":10,"date":6,"hours":18,"utc":true}},
        "y": {"field": "a", "type": "quantitative"},
        "y2": {"field": "b"}
      }
    },
    {
      "data": {"values": [{"w": "USDT", "p": 17.155}]},
      "mark": {"type": "text", "fontSize": 10, "color": "#787b86", "align": "center", "baseline": "middle"},
      "encoding": {
        "x": {"datum": {"year":2021,"month":10,"date":2,"hours":3,"minutes":30,"utc":true}, "type": "temporal"},
        "y": {"field": "p", "type": "quantitative"},
        "text": {"field": "w"}
      }
    }
  ]
}
